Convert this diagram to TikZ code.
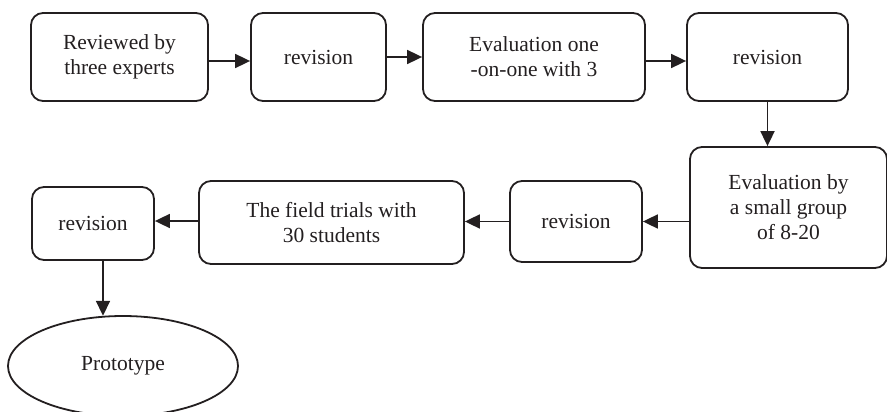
\documentclass[tikz,border=0pt]{standalone}
\usepackage{fontspec}
\setmainfont{Liberation Serif}
\usetikzlibrary{arrows.meta}
\definecolor{ink}{HTML}{231F20}
\tikzset{
  stepbox/.style={draw=ink, line width=1.8pt, rounded corners=12pt, align=center,
    inner sep=0pt, text=ink, font=\fontsize{21.5}{25}\selectfont},
  flow/.style={draw=ink, line width=1.8pt, -{Triangle[length=15pt,width=14pt]}},
  endshape/.style={draw=ink, line width=1.8pt}
}
\begin{document}
\begin{tikzpicture}[x=1pt,y=-1pt]
\useasboundingbox (0,0) rectangle (887,412);
% top row
\node[stepbox, minimum width=177pt, minimum height=88pt] (b1) at (119.5,57) {Reviewed by\\three experts};
\node[stepbox, minimum width=135pt, minimum height=88pt] (b2) at (318.5,57) {revision};
\node[stepbox, minimum width=222pt, minimum height=88pt] (b3) at (534,57) {Evaluation one\\ -on-one with 3};
\node[stepbox, minimum width=161pt, minimum height=88pt] (b4) at (767.5,57) {revision};
% second row
\node[stepbox, minimum width=197pt, minimum height=121pt] (b5) at (788.5,207.5) {Evaluation by\\a small group\\of 8-20};
\node[stepbox, minimum width=132pt, minimum height=81pt] (b6) at (576,221.5) {revision};
\node[stepbox, minimum width=265pt, minimum height=83pt] (b7) at (331.5,222.5) {The field trials with\\30 students};
\node[stepbox, minimum width=122pt, minimum height=73pt] (b8) at (93,223.5) {revision};
% final product
\draw[endshape] (123,366) ellipse (115pt and 50pt);
\node[text=ink, font=\fontsize{21.5}{25}\selectfont, minimum width=230pt, minimum height=100pt, inner sep=0pt] (pt) at (123,366) {Prototype};
% connectors
\draw[flow] ([yshift=-4pt]b1.east) -- ([yshift=-4pt]b2.west);
\draw[flow] (b2.east) -- (b3.west);
\draw[flow] ([yshift=-4pt]b3.east) -- ([yshift=-4pt]b4.west);
\draw[flow] (b4.south) -- (b4.south |- b5.north);
\draw[flow] (b5.west |- b6.west) -- (b6.east);
\draw[flow] (b6.west) -- (b6.west -| b7.east);
\draw[flow] ([yshift=1.5pt]b7.west) -- ([yshift=1.5pt]b7.west -| b8.east);
\draw[flow] ([xshift=10pt]b8.south) -- ([xshift=10pt]b8.south |- pt.north);
\end{tikzpicture}
\end{document}
